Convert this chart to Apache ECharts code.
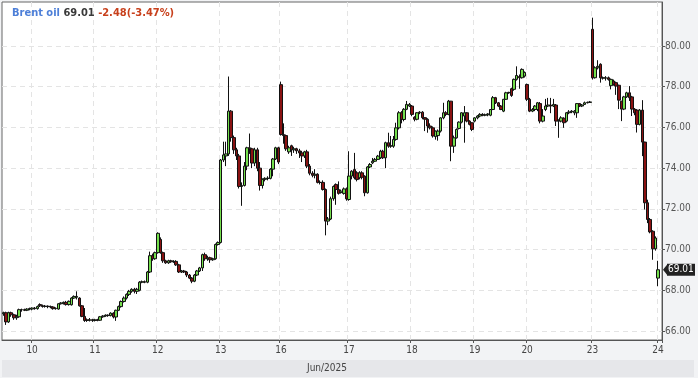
<!DOCTYPE html>
<html><head><meta charset="utf-8">
<script src="https://cdn.jsdelivr.net/npm/echarts@6/dist/echarts.min.js"></script>
<style>html,body{margin:0;padding:0;background:#f2f3f5}#c{width:698px;height:378px}</style>
</head><body><div id="c"></div>
<script>
// Each candle: [open, close, low, high]
const days = ['9','10','11','12','13','16','17','18','19','20','23','24'];
const jun09 = [[66.85,66.90,66.75,66.95],[66.90,66.45,66.30,66.95],[66.45,66.90,66.40,66.95],[66.90,66.80,66.70,66.95],[66.80,66.65,66.55,66.85],[66.65,66.70,66.55,66.80],[66.70,67.05,66.65,67.10],[67.05,67.05,66.95,67.10],[67.05,67.02,66.98,67.10],[67.02,67.08,66.98,67.12],[67.08,67.10,67.02,67.15]];
const jun10 = [[67.08,67.13,67.02,67.16],[67.13,67.10,67.05,67.18],[67.10,67.20,67.05,67.25],[67.30,67.24,67.18,67.36],[67.24,67.21,67.15,67.30],[67.21,67.22,67.15,67.28],[67.22,67.20,67.12,67.26],[67.20,67.18,67.12,67.25],[67.18,67.10,67.05,67.22],[67.10,67.12,67.05,67.16],[67.08,67.34,67.05,67.36],[67.34,67.38,67.30,67.42],[67.36,67.41,67.30,67.45],[67.41,67.30,67.25,67.48],[67.30,67.46,67.25,67.50],[67.29,67.62,67.25,67.66],[67.62,67.70,67.58,67.75],[67.66,67.70,67.55,67.95],[67.62,67.24,67.20,67.66],[67.24,66.72,66.68,67.28],[66.72,66.52,66.45,67.13],[66.55,66.52,66.45,66.62],[66.52,66.56,66.47,66.64],[66.56,66.52,66.45,66.60]];
const jun11 = [[66.52,66.55,66.47,66.60],[66.55,66.53,66.48,66.60],[66.53,66.70,66.50,66.74],[66.70,66.74,66.65,66.78],[66.74,66.78,66.70,66.82],[66.78,66.76,66.70,66.82],[66.76,66.88,66.72,66.92],[66.88,66.69,66.62,66.92],[66.69,67.02,66.50,67.05],[67.02,67.20,66.98,67.25],[67.20,67.45,67.15,67.50],[67.45,67.62,67.40,67.70],[67.62,67.80,67.55,67.85],[67.80,67.95,67.72,68.02],[67.95,68.05,67.88,68.10],[68.05,67.95,67.85,68.12],[67.95,68.05,67.82,68.12],[68.00,68.40,67.95,68.45],[68.40,68.42,68.35,68.48],[68.42,68.40,68.35,68.48],[68.40,68.90,68.35,68.95],[68.90,69.70,68.85,69.90],[69.70,69.55,69.45,69.80],[69.55,69.85,69.50,69.90]];
const jun12 = [[69.85,70.80,69.80,70.85],[70.50,69.85,69.80,70.60],[69.85,69.45,69.35,69.90],[69.45,69.35,69.30,69.50],[69.35,69.45,69.30,69.50],[69.45,69.40,69.35,69.50],[69.40,69.42,69.35,69.48],[69.42,69.25,69.20,69.48],[69.25,68.90,68.85,69.30],[68.90,68.95,68.85,69.00],[68.95,68.90,68.85,69.00],[68.90,68.75,68.65,68.95],[68.75,68.60,68.55,68.80],[68.60,68.45,68.35,68.65],[68.45,68.75,68.40,68.80],[68.75,68.95,68.70,69.00],[68.95,69.10,68.90,69.15],[69.10,69.75,68.95,69.80],[69.75,69.55,69.45,69.85],[69.55,69.60,69.45,69.70],[69.60,69.50,69.35,69.65],[69.50,69.55,69.45,69.60],[69.55,70.25,69.50,70.30],[70.25,70.35,70.20,70.40]];
const jun13 = [[70.35,74.40,70.30,74.45],[74.40,74.65,74.30,75.30],[74.60,74.70,74.10,75.30],[74.70,76.80,74.60,78.50],[76.80,75.50,75.30,76.85],[75.50,74.90,74.70,75.60],[74.90,74.60,74.40,75.00],[74.60,73.10,73.00,74.70],[73.10,73.15,72.15,73.30],[73.15,74.10,73.10,74.30],[74.10,75.00,73.90,75.05],[75.00,74.95,74.70,75.70],[74.95,74.25,74.00,75.00],[74.25,74.90,74.10,75.00],[74.90,74.00,73.85,75.00],[74.00,73.15,72.90,74.30],[73.15,73.45,73.00,73.50],[73.45,73.50,73.35,73.55],[73.50,73.50,73.40,73.60],[73.50,73.95,73.45,74.00],[73.95,74.45,73.60,74.50],[74.45,75.00,74.40,75.05],[75.00,74.30,74.20,75.05]];
const jun16 = [[78.10,75.65,75.60,78.25],[75.65,75.60,75.20,76.20],[75.60,74.95,74.85,75.65],[74.80,75.00,74.70,75.10],[75.10,74.90,74.60,75.15],[74.90,74.95,74.75,75.05],[74.95,74.85,74.70,75.00],[74.85,74.75,74.50,74.95],[74.75,74.60,74.30,74.85],[74.60,74.80,74.50,74.85],[74.80,74.10,74.00,74.90],[74.10,73.75,73.65,74.20],[73.75,73.65,73.55,73.85],[73.65,73.70,73.50,73.95],[73.70,73.30,73.25,73.75],[73.30,73.30,73.20,73.40],[73.30,72.95,72.90,73.40],[72.95,71.40,70.70,73.00],[71.40,71.50,71.20,71.60],[71.50,72.50,71.45,72.60],[72.50,73.10,72.40,73.15],[73.20,72.95,72.20,73.25],[72.95,72.76,72.70,73.35],[72.80,72.87,72.75,72.95],[72.76,72.98,72.70,73.05],[72.98,72.49,72.40,73.05]];
const jun17 = [[72.46,73.61,72.40,74.83],[73.61,73.85,73.45,73.90],[73.93,73.53,73.45,74.75],[73.77,73.44,73.35,73.85],[73.53,73.77,73.45,73.85],[73.77,73.55,73.45,73.85],[73.61,72.79,72.62,73.65],[72.79,74.06,72.75,74.10],[74.06,74.18,74.00,74.25],[74.26,74.34,74.20,74.50],[74.34,74.43,74.30,74.50],[74.43,74.59,74.40,74.65],[74.51,74.83,74.45,74.90],[74.83,74.51,74.45,74.90],[74.51,75.25,74.00,75.30],[75.25,75.08,75.00,75.74],[75.08,75.10,75.00,75.58],[75.08,75.41,75.00,75.58],[75.41,75.98,75.35,76.23],[75.98,76.72,75.90,76.80],[76.72,76.39,76.20,76.80],[76.39,76.89,76.30,76.95],[76.89,77.13,76.85,77.30],[77.05,77.13,77.00,77.20]];
const jun18 = [[77.05,76.64,76.55,77.10],[76.50,76.40,76.30,76.55],[76.40,76.72,76.35,76.75],[76.72,76.75,76.65,76.80],[76.75,76.48,76.40,76.80],[76.48,76.40,75.82,76.50],[76.40,76.07,75.74,76.45],[76.07,75.98,75.90,76.20],[75.98,75.58,75.50,76.05],[75.55,75.82,75.40,75.85],[75.60,75.82,75.35,75.90],[75.82,76.47,75.75,76.50],[76.47,76.72,76.40,77.21],[76.72,76.64,76.55,76.80],[76.64,77.29,76.60,77.35],[77.29,75.08,74.34,77.30],[75.08,75.49,74.75,75.60],[75.49,75.90,75.45,75.95],[75.95,76.26,75.90,76.30],[76.26,76.72,76.20,76.75],[76.56,76.72,75.25,77.05],[76.72,76.31,76.25,76.75],[76.31,76.15,76.10,76.35],[76.23,75.90,75.82,76.25]];
const jun19 = [[76.31,76.47,76.25,76.50],[76.47,76.56,76.40,76.60],[76.56,76.64,76.50,76.70],[76.64,76.60,76.55,76.70],[76.60,76.62,76.55,76.68],[76.62,76.66,76.55,76.70],[76.60,76.88,76.55,76.90],[76.88,77.46,76.85,77.54],[77.46,77.21,77.15,77.50],[77.21,77.05,77.00,77.25],[77.05,76.88,76.85,77.10],[76.80,77.38,76.75,77.40],[77.38,77.70,77.35,77.75],[77.70,77.72,77.65,77.75],[77.90,77.57,77.50,77.95],[77.87,78.36,77.80,78.40],[78.36,78.55,78.30,79.00],[78.50,78.44,77.90,78.60],[78.44,78.85,78.40,78.90],[78.52,78.70,78.45,78.75]];
const jun20 = [[78.11,77.38,77.30,78.15],[77.38,76.80,76.75,77.45],[76.80,76.88,76.75,76.95],[76.88,77.05,76.80,77.10],[76.88,77.21,76.80,77.25],[77.17,76.31,76.20,77.25],[76.31,76.56,76.25,76.90],[76.88,77.05,76.80,77.40],[77.05,77.10,77.00,77.45],[77.10,77.05,76.70,77.45],[77.05,77.13,77.00,77.40],[77.10,76.31,76.07,77.15],[76.31,76.35,75.49,76.40],[76.31,76.47,76.25,76.55],[76.45,76.23,75.98,76.50],[76.31,76.72,76.25,76.75],[76.72,76.76,76.65,76.85],[76.76,76.80,76.70,76.85],[76.72,76.80,76.60,76.85],[76.72,77.17,76.47,77.20],[77.17,77.05,77.00,77.20],[77.05,77.10,77.00,77.15],[77.13,77.21,77.10,77.27],[77.21,77.23,77.18,77.27],[77.23,77.25,77.20,77.30]];
const jun23 = [[80.82,78.44,78.35,81.39],[78.44,78.93,78.40,79.00],[78.93,79.00,78.85,79.30],[79.10,78.44,78.20,79.15],[78.44,78.42,78.35,78.50],[78.42,78.44,78.30,78.52],[78.44,78.36,78.30,78.50],[78.05,78.36,77.87,78.40],[78.28,78.11,78.05,78.35],[78.20,78.03,77.60,78.25],[78.07,77.34,76.90,78.10],[77.29,76.90,76.31,77.30],[76.90,77.50,76.85,77.55],[77.50,77.70,77.45,77.75],[77.70,77.46,77.30,78.03],[77.50,76.90,76.56,77.55],[76.90,76.72,76.60,76.95],[76.85,76.15,75.75,76.90],[76.15,76.85,76.10,76.90],[76.85,75.28,74.59,77.34],[75.28,72.30,71.97,75.30],[72.30,71.48,71.30,72.45],[71.48,70.87,70.80,71.55],[70.90,70.04,69.50,70.95],[70.04,70.57,69.95,70.65]];
const jun24 = [[68.60,69.01,68.20,69.45]];
const yTicks = [66,68,70,72,74,76,78,80];
const lastClose = 69.01;
const legendName = 'Brent oil', legendPrice = '69.01', legendChange = '-2.48(-3.47%)';
const monthLabel = 'Jun/2025';

const perDay = [jun09,jun10,jun11,jun12,jun13,jun16,jun17,jun18,jun19,jun20,jun23,jun24];
const categories = [], ohlc = [];
perDay.forEach((arr, di) => arr.forEach((c, k) => {
  categories.push(k === 0 ? days[di] : days[di] + '_' + k);
  ohlc.push(c);
}));
categories.push('end_'); ohlc.push('-');

const FONT = '"DejaVu Sans Condensed", "DejaVu Sans", sans-serif';
const isDayStart = (i, v) => v.indexOf('_') < 0 && v !== '9';

const chart = echarts.init(document.getElementById('c'));
chart.setOption({
  backgroundColor: '#f2f3f5',
  animation: false,
  grid: {left: 2, right: 36, top: 2, bottom: 38, show: true, backgroundColor: '#ffffff', borderColor: '#666', borderWidth: 1},
  xAxis: {
    type: 'category', data: categories, boundaryGap: true,
    axisLine: {lineStyle: {color: '#555'}},
    axisTick: {show: true, interval: isDayStart, length: 3, lineStyle: {color: '#555'}},
    axisLabel: {interval: isDayStart, formatter: v => v.split('_')[0], color: '#444', fontSize: 10, fontFamily: FONT, margin: 5},
    splitLine: {show: true, interval: isDayStart, lineStyle: {color: '#e4e4e4', type: [5, 4]}}
  },
  yAxis: {
    type: 'value', position: 'right', scale: true, min: 65.56, max: 82.16,
    splitNumber: 8, minInterval: 2, maxInterval: 2,
    axisLine: {show: true, lineStyle: {color: '#555'}},
    axisTick: {show: true, length: 3, lineStyle: {color: '#555'}, customValues: yTicks},
    axisLabel: {customValues: yTicks, formatter: v => v.toFixed(2), color: '#555', fontSize: 10, fontFamily: FONT, margin: 3},
    splitLine: {show: true, lineStyle: {color: '#e4e4e4', type: [5, 4]}}
  },
  series: [{
    type: 'candlestick', data: ohlc, barWidth: 3,
    itemStyle: {color: '#74df4d', color0: '#8a1212', borderColor: '#111', borderColor0: '#111', borderWidth: 1}
  }]
});

const yLast = chart.convertToPixel({yAxisIndex: 0}, lastClose);
chart.setOption({
  graphic: [
    {type: 'rect', shape: {x: 2, y: 360, width: 692, height: 17}, style: {fill: '#e6e7ea'}, silent: true},
    {type: 'text', x: 327, y: 368.5, style: {text: monthLabel, fill: '#444', font: '10px ' + FONT, align: 'center', verticalAlign: 'middle'}},
    {type: 'text', x: 12, y: 13, style: {
      text: '{a|' + legendName + '} {b|' + legendPrice + '} {c|' + legendChange + '}',
      verticalAlign: 'middle',
      font: 'bold 11px ' + FONT,
      rich: {
        a: {fill: '#4d7fd8', font: 'bold 11px ' + FONT},
        b: {fill: '#3a3a3a', font: 'bold 11px ' + FONT},
        c: {fill: '#c8401c', font: 'bold 11px ' + FONT}
      }}},
    {type: 'polygon', shape: {points: [[663, yLast], [667, yLast - 5], [667, yLast + 5]]}, style: {fill: '#222'}},
    {type: 'rect', shape: {x: 667, y: yLast - 6, width: 28, height: 12}, style: {fill: '#222'}},
    {type: 'text', x: 668, y: yLast, style: {text: lastClose.toFixed(2), fill: '#fff', font: '10px ' + FONT, verticalAlign: 'middle'}}
  ]
});
</script></body></html>
